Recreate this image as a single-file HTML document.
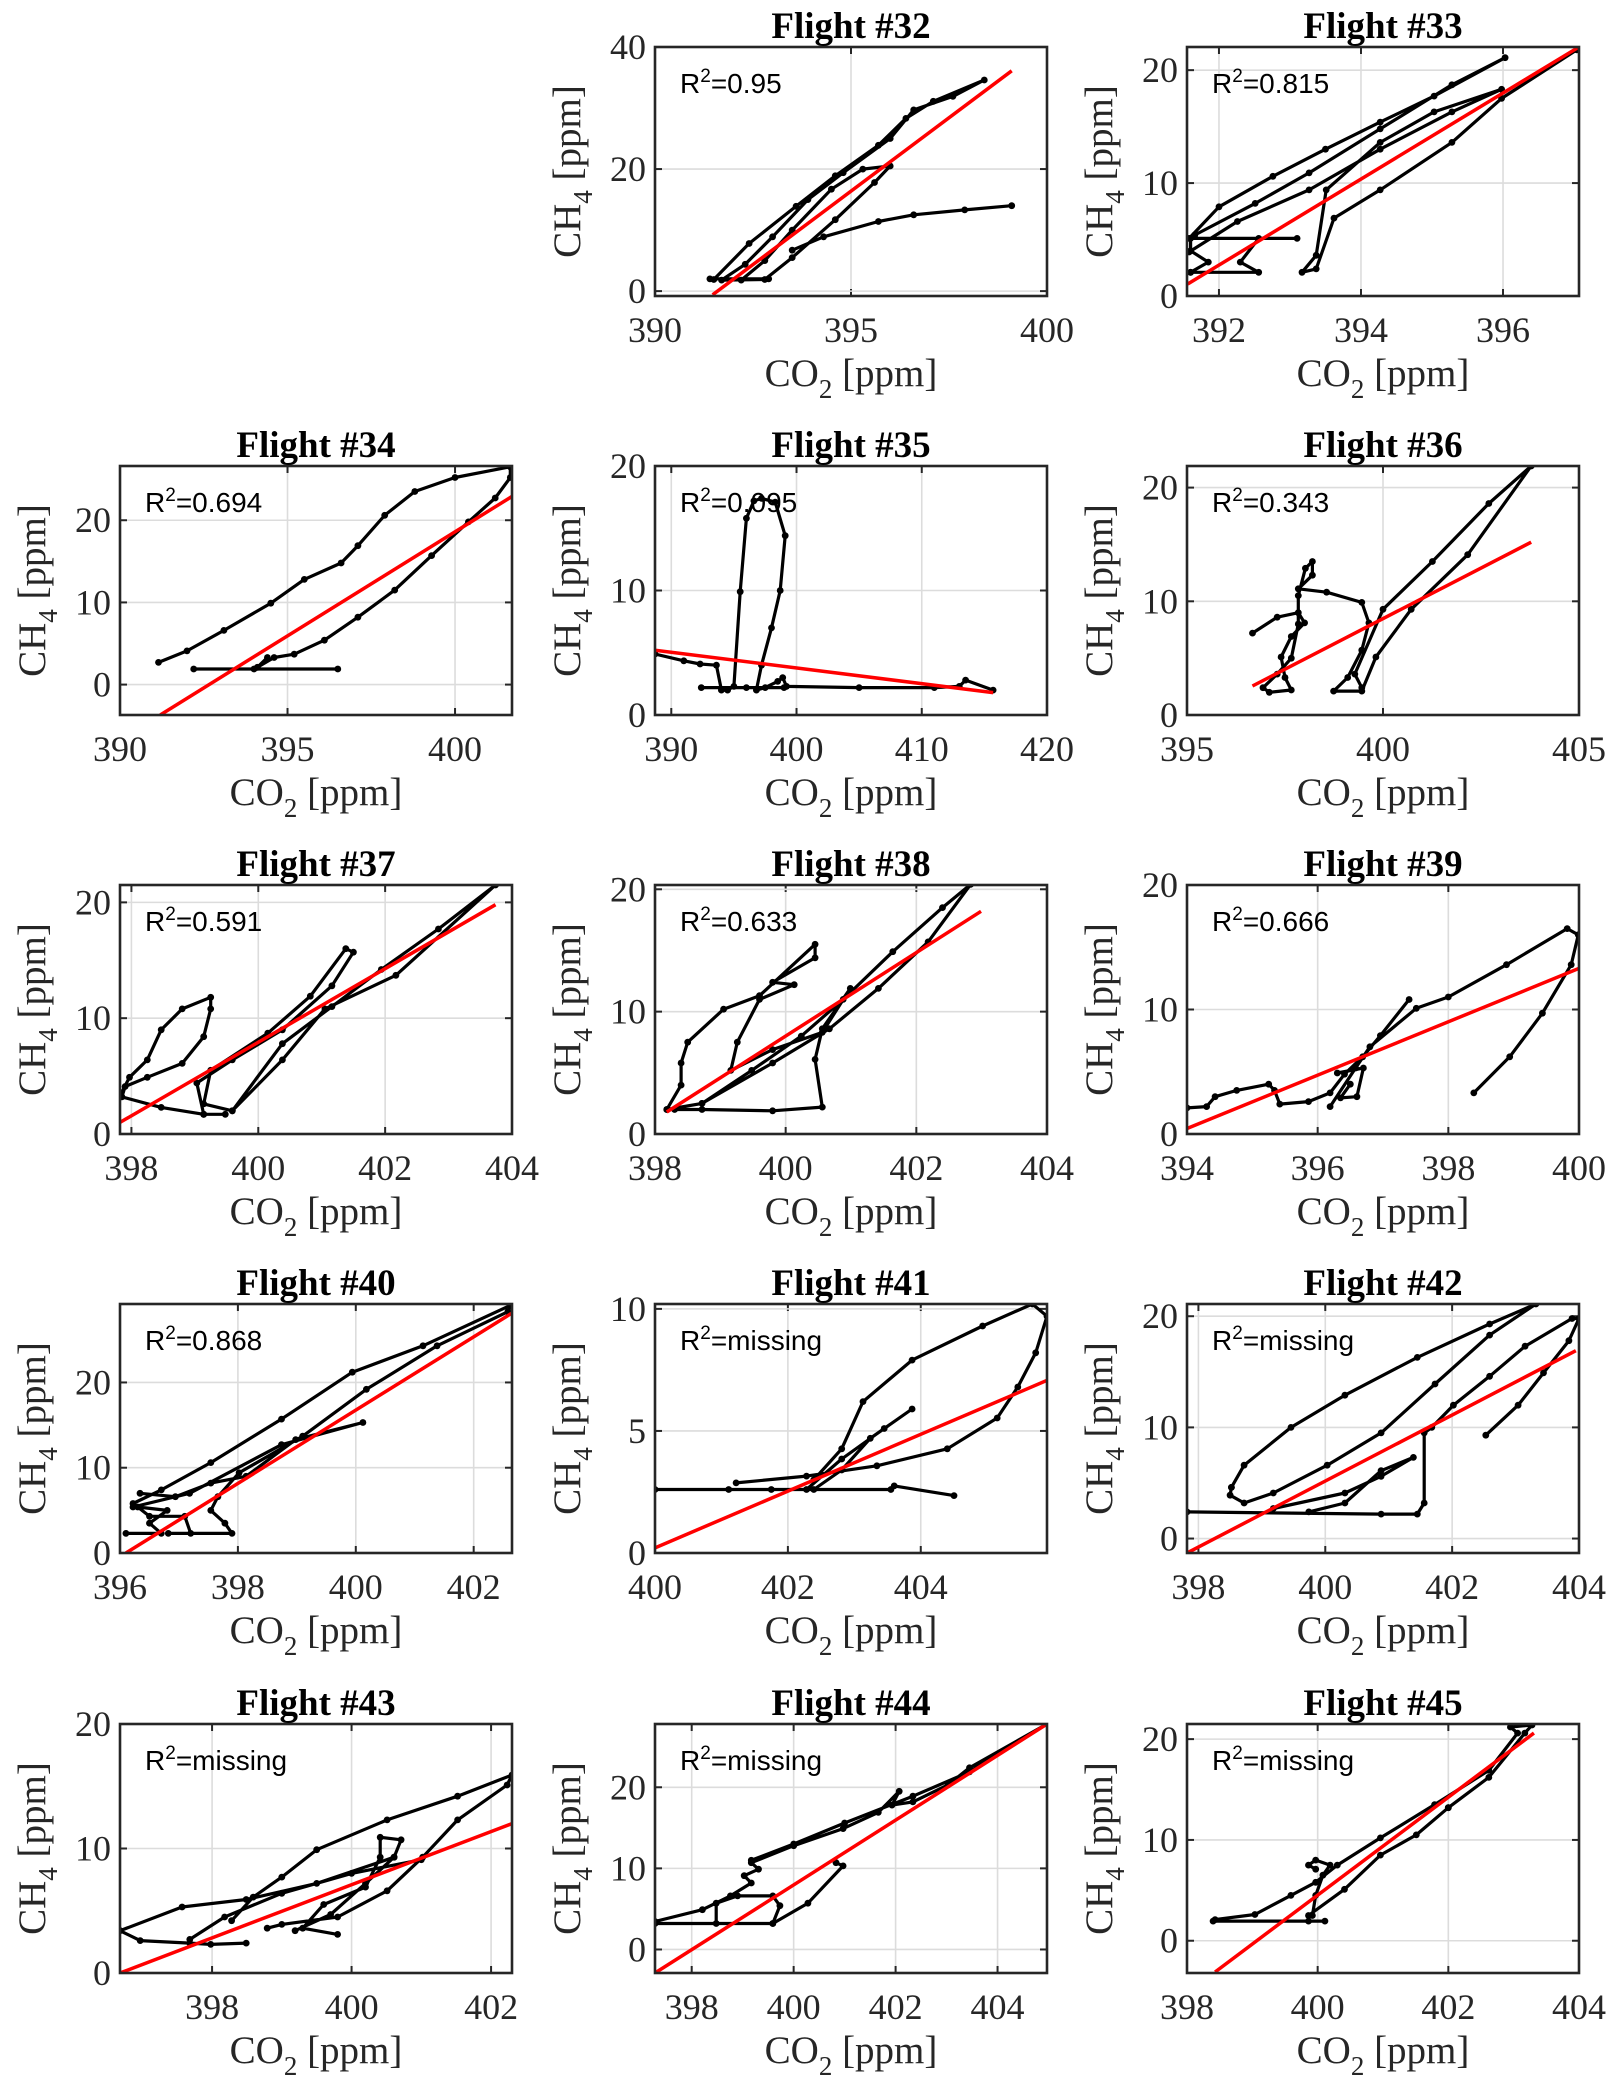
<!DOCTYPE html>
<html><head><meta charset="utf-8"><style>
html,body{margin:0;padding:0;background:#fff;}
svg{display:block;}
.tk{font-family:"Liberation Serif",serif;font-size:36px;fill:#262626;}
.ttl{font-family:"Liberation Serif",serif;font-size:37px;font-weight:bold;fill:#000;}
.lab{font-family:"Liberation Serif",serif;font-size:39px;fill:#262626;}
.r2{font-family:"Liberation Sans","Noto Sans CJK SC",sans-serif;font-size:28px;fill:#000;}
</style></head><body>
<svg id="fig" width="1618" height="2086" viewBox="0 0 1618 2086" xmlns="http://www.w3.org/2000/svg"></svg>
<script>
const flightIds = [32,33,34,35,36,37,38,39,40,41,42,43,44,45];
const r2Labels = ["0.95","0.815","0.694","0.095","0.343","0.591","0.633","0.666","0.868","missing","missing","missing","missing","missing"];
const xLims = [[390,400],[391.55,397.07],[390,401.7],[388.7,420],[395,405],[397.82,404],[398,404],[394,400],[396,402.65],[400,405.9],[397.82,404],[396.68,402.3],[397.28,404.97],[398,404]];
const yLims = [[-0.8,40],[0,22.05],[-3.7,26.6],[0,20],[0,21.9],[0,21.5],[0,20.35],[0,20],[0,29.2],[0,10.2],[-1.3,21.1],[0,20],[-2.9,27.8],[-3.2,21.5]];
const xTicks = [[390,395,400],[392,394,396],[390,395,400],[390,400,410,420],[395,400,405],[398,400,402,404],[398,400,402,404],[394,396,398,400],[396,398,400,402],[400,402,404],[398,400,402,404],[398,400,402],[398,400,402,404],[398,400,402,404]];
const yTicks = [[0,20,40],[0,10,20],[0,10,20],[0,10,20],[0,10,20],[0,10,20],[0,10,20],[0,10,20],[0,10,20],[0,5,10],[0,10,20],[0,10,20],[0,10,20],[0,10,20]];
const fitLines = [[391.47,-0.6,399.1,36.1],[391.56,1.06,397.07,22.05],[391.2,-3.7,401.7,22.9],[388.7,5.2,415.7,1.8],[396.67,2.55,403.78,15.2],[397.82,1.0,403.74,19.8],[398.18,1.8,402.99,18.2],[394,0.44,400,13.3],[396.1,0,402.64,28.1],[400,0.21,405.9,7.07],[397.82,-1.3,403.95,16.9],[396.68,0,402.3,12.0],[397.28,-2.9,404.97,27.8],[398.43,-3.1,403.31,20.6]];

const f32_co2 = [391.5,392.4,393.6,394.6,395.7,396.4,397.1,398.4,397.6,396.6,396.0,394.8,393.9,393.0,392.3,391.7,392.8,393.5,394.6,395.6,396.0,395.3,394.5,393.5,392.8,392.2,null,393.5,394.3,395.7,396.6,397.9,399.1,null,391.4,392.9];
const f32_ch4 = [1.9,7.8,13.9,18.9,23.9,28.3,31.1,34.6,31.9,29.7,25,19.4,15,8.9,4.4,1.8,1.9,5.5,11.7,17.8,20.5,20,16.7,10,5,1.8,null,6.7,8.9,11.4,12.5,13.3,14.0,null,2.0,2.0];
const f33_co2 = [391.58,392,392.76,393.5,394.27,395.03,396.03,395.28,394.27,393.27,392.51,391.66,null,391.58,392.26,393.27,394.27,395.28,395.98,395.03,394.27,393.51,393.37,393.17,393.37,393.62,394.27,395.28,395.98,397.04,null,391.6,392.56,392.3,392.56,393.1,391.6,391.6,391.85,391.6];
const f33_ch4 = [5.1,7.9,10.6,13,15.4,17.7,21.1,18.7,14.8,10.9,8.2,5.4,null,3.9,6.6,9.4,13,16.3,18.3,16.3,13.6,9.4,3.6,2.1,2.4,6.9,9.4,13.6,17.5,21.8,null,2.1,2.1,3,5.1,5.1,5.1,4,3,2.1];
const f34_co2 = [391.15,392,393.1,394.5,395.5,396.6,397.1,397.9,398.8,400,401.65,401.65,401.2,400.4,399.3,398.2,397.1,396.1,395.2,394.6,394.1,394.4,null,392.2,394,396.5];
const f34_ch4 = [2.7,4.1,6.6,9.9,12.8,14.8,16.9,20.6,23.5,25.2,26.5,25.2,22.7,19.8,15.7,11.5,8.2,5.4,3.7,3.3,2.1,3.3,null,1.9,1.9,1.9];
const f35_co2 = [388.7,391,392.3,393.6,394.0,394.5,395.0,395.5,396.0,396.6,397.2,398.3,399.1,398.7,398.0,397.2,396.8,397.5,398.5,398.9,399.2,405,411,413.0,413.5,415.7,null,392.4,396,399];
const f35_ch4 = [4.9,4.35,4.1,4.0,2.0,2.0,2.3,9.9,15.8,17.2,17.4,17.1,14.4,10,7,4,2.0,2.2,2.7,3.0,2.3,2.2,2.2,2.3,2.8,2.0,null,2.2,2.2,2.2];
const f36_co2 = [396.67,397.3,397.84,398.0,397.66,397.4,397.5,397.66,397.1,396.94,397.3,397.66,397.84,397.84,398.02,398.2,398.2,397.84,398.56,399.46,399.64,399.46,399.1,398.74,399.46,399.82,400.72,402.16,403.78,402.7,401.26,400.0,399.28,399.46];
const f36_ch4 = [7.2,8.6,9.0,8.1,6.9,5.1,3.3,2.2,2.0,2.4,3.6,5.0,8,10.5,12.9,13.5,12.3,11.1,10.8,9.9,8.1,5.7,3.3,2.1,2.1,5.1,9.3,14.1,21.9,18.6,13.5,9.3,3.6,2.4];
const f37_co2 = [397.82,397.97,398.25,398.47,398.8,399.25,399.25,399.14,398.8,398.25,397.9,397.85,398.47,399.14,399.48,null,399.14,399.03,399.59,400.38,401.16,401.5,401.38,400.82,400.15,399.25,399.14,399.59,400.38,401.05,402.17,403.74,402.84,401.94,401.16,400.38,399.59];
const f37_ch4 = [3.3,4.9,6.4,9.0,10.8,11.8,10.8,8.4,6.1,4.9,4.1,3.2,2.3,1.7,1.7,null,1.7,4.4,6.4,9.0,12.8,15.7,16.0,11.9,8.7,5.5,2.6,2.0,6.4,10.8,13.7,21.5,17.7,14.2,11.0,7.8,2.0];
const f38_co2 = [398.18,398.72,399.8,400.67,401.42,402.18,402.83,402.4,401.64,400.88,400.24,399.48,398.72,null,398.18,398.4,398.4,398.5,399.05,399.6,400.45,400.45,399.8,400.13,399.6,399.26,399.16,399.8,400.56,400.99,400.56,400.45,400.56,399.8,398.72,398.3];
const f38_ch4 = [2.0,2.5,5.8,8.6,11.9,15.7,20.4,18.5,14.9,11,8,5.2,2.5,null,2.0,4,5.8,7.5,10.2,11.3,15.5,14.4,12.4,12.2,11,7.5,5.2,6.9,8.3,11.9,8.6,6.1,2.2,1.9,2.0,2.0];
const f39_co2 = [394,394.3,394.43,394.76,395.25,395.34,395.42,395.86,396.19,396.41,396.69,396.96,397.4,null,396.19,396.58,396.8,397.51,398.0,398.89,399.82,399.99,399.88,399.44,398.94,398.39,null,396.3,396.7,396.6,396.35,396.5];
const f39_ch4 = [2.1,2.2,3.0,3.5,4.0,3.5,2.4,2.6,3.3,4.8,6.2,7.9,10.8,null,2.2,5.3,7.0,10.1,11.0,13.6,16.5,16.0,13.6,9.7,6.2,3.3,null,4.9,5.3,3.0,2.9,4.0];
const f40_co2 = [396.22,396.7,397.54,398.74,399.94,401.14,402.64,402.58,401.38,400.18,399.1,398.02,397.66,397.54,397.78,397.9,396.82,null,396.22,397.18,398.74,400.12,398.98,398.14,397.54,396.94,396.34,null,396.1,396.7,396.5,396.8,396.3,396.5,397.1,397.2];
const f40_ch4 = [5.8,7.4,10.6,15.7,21.2,24.3,29.1,28.3,24.3,19.2,13.7,9.4,6.6,5.0,3.5,2.3,2.3,null,5.4,7.0,12.7,15.3,13.3,9.0,8.2,6.6,7.0,null,2.3,2.3,3.5,5,5.4,4.3,4.3,2.3];
const f41_co2 = [400,401.75,403.55,403.6,404.5,null,401.11,402.28,402.81,403.45,403.87,403.24,402.81,402.39,null,401.22,402.28,403.34,404.4,405.15,405.46,405.73,405.9,405.68,404.93,403.87,403.13,402.81,402.39];
const f41_ch4 = [2.6,2.6,2.6,2.75,2.35,null,2.6,2.6,3.85,5.1,5.9,4.7,3.4,2.6,null,2.87,3.15,3.57,4.27,5.53,6.8,8.2,9.7,10.2,9.3,7.9,6.2,4.27,3.0];
const f42_co2 = [397.82,400.88,401.45,401.56,401.56,401.68,402.02,402.59,403.15,403.89,404,403.84,403.44,403.04,402.53,null,398.52,398.72,399.46,400.31,401.45,402.59,403.32,402.59,401.73,400.88,400.03,399.18,398.72,398.5,398.52,null,399.18,400.31,400.88,401.39,400.88,400.31,399.74];
const f42_ch4 = [2.4,2.2,2.2,3.2,9.5,10,12,14.6,17.3,19.8,19.8,17.8,14.9,12,9.3,null,4.6,6.6,10,12.9,16.3,19.3,21.1,18.3,13.9,9.5,6.6,4.1,3.2,3.9,4.6,null,2.7,4.1,5.6,7.3,6.1,3.2,2.4];
const f43_co2 = [398.28,398.59,399.0,399.5,400.51,401.52,402.3,402.23,401.52,401.02,400.51,399.8,399.0,398.79,null,396.68,396.97,397.68,397.98,398.49,null,396.68,397.57,398.49,399.5,400.61,null,397.68,398.18,399.0,400.0,401.0,null,399.19,399.7,400.2,400.61,400.71,400.41,400.41,400.2,399.6,399.3,399.8];
const f43_ch4 = [4.2,6.1,7.7,9.9,12.3,14.2,15.9,15.1,12.3,9.3,6.6,4.5,3.9,3.6,null,3.4,2.6,2.4,2.3,2.4,null,3.4,5.3,5.9,7.2,9.3,null,2.7,4.5,6.4,8.0,9.1,null,3.4,4.7,7.2,9.3,10.7,10.9,9.3,6.9,5.5,3.6,3.1];
const f44_co2 = [397.28,398.21,398.76,399.17,399.03,399.31,399.17,400.0,400.97,401.66,402.07,401.93,402.34,403.03,403.45,404.97,403.45,402.34,401.0,400.0,399.17,null,397.28,399.59,400.28,400.97,400.83,null,398.48,398.48,398.9,399.59,399.73,399.59];
const f44_ch4 = [3.45,4.9,6.6,8.2,9.1,9.9,10.7,12.8,14.9,16.9,19.5,17.8,18.2,20.3,22.4,27.8,21.9,18.9,15.6,13.0,11.0,null,3.2,3.2,5.7,10.3,10.7,null,3.2,5.7,6.6,6.6,5.4,3.2];
const f45_co2 = [398.43,399.04,399.59,399.97,400.3,400.96,401.79,402.62,403.06,402.95,403.28,403.17,402.62,402.0,null,398.4,399.86,400.11,null,399.97,399.86,399.97,400.19,400.08,399.97,399.92,null,399.86,400.41,400.96,401.51,402.0];
const f45_ch4 = [2.1,2.6,4.5,5.8,7.5,10.2,13.5,16.9,20.6,21.2,21.4,20.6,16.2,13.2,null,1.95,1.95,1.95,null,7.1,7.5,8.0,7.5,6.5,4.5,2.5,null,2.5,5.1,8.5,10.5,13.2];

const co2Series = [f32_co2,f33_co2,f34_co2,f35_co2,f36_co2,f37_co2,f38_co2,f39_co2,f40_co2,f41_co2,f42_co2,f43_co2,f44_co2,f45_co2];
const ch4Series = [f32_ch4,f33_ch4,f34_ch4,f35_ch4,f36_ch4,f37_ch4,f38_ch4,f39_ch4,f40_ch4,f41_ch4,f42_ch4,f43_ch4,f44_ch4,f45_ch4];

const colLeft = [120,655,1187];
const rowTop = [47,466,885,1304,1724];
const boxW = 392, boxH = 249;
const NS = "http://www.w3.org/2000/svg";
const svg = document.getElementById('fig');

function mk(tag, attrs, parent){
  const e = document.createElementNS(NS, tag);
  for (const k in attrs) e.setAttribute(k, attrs[k]);
  (parent||svg).appendChild(e);
  return e;
}

flightIds.forEach((fid, i) => {
  const slot = i + 1;
  const r = Math.floor(slot/3), c = slot%3;
  const L = colLeft[c], T = rowTop[r], R = L+boxW, B = T+boxH;
  const [x0,x1] = xLims[i], [y0,y1] = yLims[i];
  const sx = v => L + (v-x0)/(x1-x0)*boxW;
  const sy = v => B - (v-y0)/(y1-y0)*boxH;

  const g = mk('g', {});
  
  

  mk('rect', {x:L,y:T,width:boxW,height:boxH,fill:'#fff'}, g);
  xTicks[i].forEach(v => {
    const X = sx(v);
    if (X < L-1 || X > R+1) return;
    const gl = mk('line', {x1:X,x2:X,y1:T,y2:B,stroke:'#dcdcdc','stroke-width':1.6}, g);
    
    
    mk('line', {x1:X,x2:X,y1:B,y2:B-7,stroke:'#262626','stroke-width':2}, g);
    mk('line', {x1:X,x2:X,y1:T,y2:T+7,stroke:'#262626','stroke-width':2}, g);
    const t = mk('text', {x:X,y:B+46,'text-anchor':'middle',class:'tk'}, g);
    t.textContent = v;
    
    
  });
  yTicks[i].forEach(v => {
    const Y = sy(v);
    if (Y < T-1 || Y > B+1) return;
    const gl = mk('line', {x1:L,x2:R,y1:Y,y2:Y,stroke:'#dcdcdc','stroke-width':1.6}, g);
    
    
    mk('line', {x1:L,x2:L+7,y1:Y,y2:Y,stroke:'#262626','stroke-width':2}, g);
    mk('line', {x1:R,x2:R-7,y1:Y,y2:Y,stroke:'#262626','stroke-width':2}, g);
    const t = mk('text', {x:L-9,y:Y+12,'text-anchor':'end',class:'tk'}, g);
    t.textContent = v;
    
    
  });

  const cp = mk('clipPath', {id:'cp'+fid}, g);
  mk('rect', {x:L,y:T,width:boxW,height:boxH}, cp);
  const dg = mk('g', {'clip-path':'url(#cp'+fid+')'}, g);

  const xs = co2Series[i], ys = ch4Series[i];
  let d = '', pen = false;
  for (let k=0;k<xs.length;k++){
    if (xs[k]===null){ pen=false; continue; }
    d += (pen?'L':'M') + sx(xs[k]).toFixed(1) + ' ' + sy(ys[k]).toFixed(1) + ' ';
    pen = true;
  }
  const p = mk('path', {d:d,fill:'none',stroke:'#000','stroke-width':3.2,'stroke-linejoin':'round','stroke-linecap':'round'}, dg);
  
  
  for (let k=0;k<xs.length;k++){
    if (xs[k]===null) continue;
    const m = mk('circle', {cx:sx(xs[k]).toFixed(1),cy:sy(ys[k]).toFixed(1),r:3.4,fill:'#000'}, dg);
    
    
  }
  const f = fitLines[i];
  const fl = mk('line', {x1:sx(f[0]),y1:sy(f[1]),x2:sx(f[2]),y2:sy(f[3]),stroke:'#ff0000','stroke-width':3.5}, dg);
  
  

  const bx = mk('rect', {x:L,y:T,width:boxW,height:boxH,fill:'none',stroke:'#262626','stroke-width':2.6}, g);
  
  

  const rt = mk('text', {x:L+25,y:T+46,class:'r2'}, g);
  rt.innerHTML = 'R<tspan dy="-11" font-size="19">2</tspan><tspan dy="11">=' + r2Labels[i] + '</tspan>';
  
  

  const tt = mk('text', {x:L+boxW/2,y:T-9,'text-anchor':'middle',class:'ttl'}, g);
  tt.textContent = 'Flight #' + fid;
  
  

  const xl = mk('text', {x:L+boxW/2,y:B+90,'text-anchor':'middle',class:'lab'}, g);
  xl.innerHTML = 'CO<tspan dy="12" font-size="27">2</tspan><tspan dy="-12"> [ppm]</tspan>';
  
  

  const yl = mk('text', {x:0,y:0,'text-anchor':'middle',class:'lab',transform:'translate('+(L-75)+','+(T+boxH/2)+') rotate(-90)'}, g);
  yl.innerHTML = 'CH<tspan dy="12" font-size="27">4</tspan><tspan dy="-12"> [ppm]</tspan>';
  
  
});
</script>
</body></html>
